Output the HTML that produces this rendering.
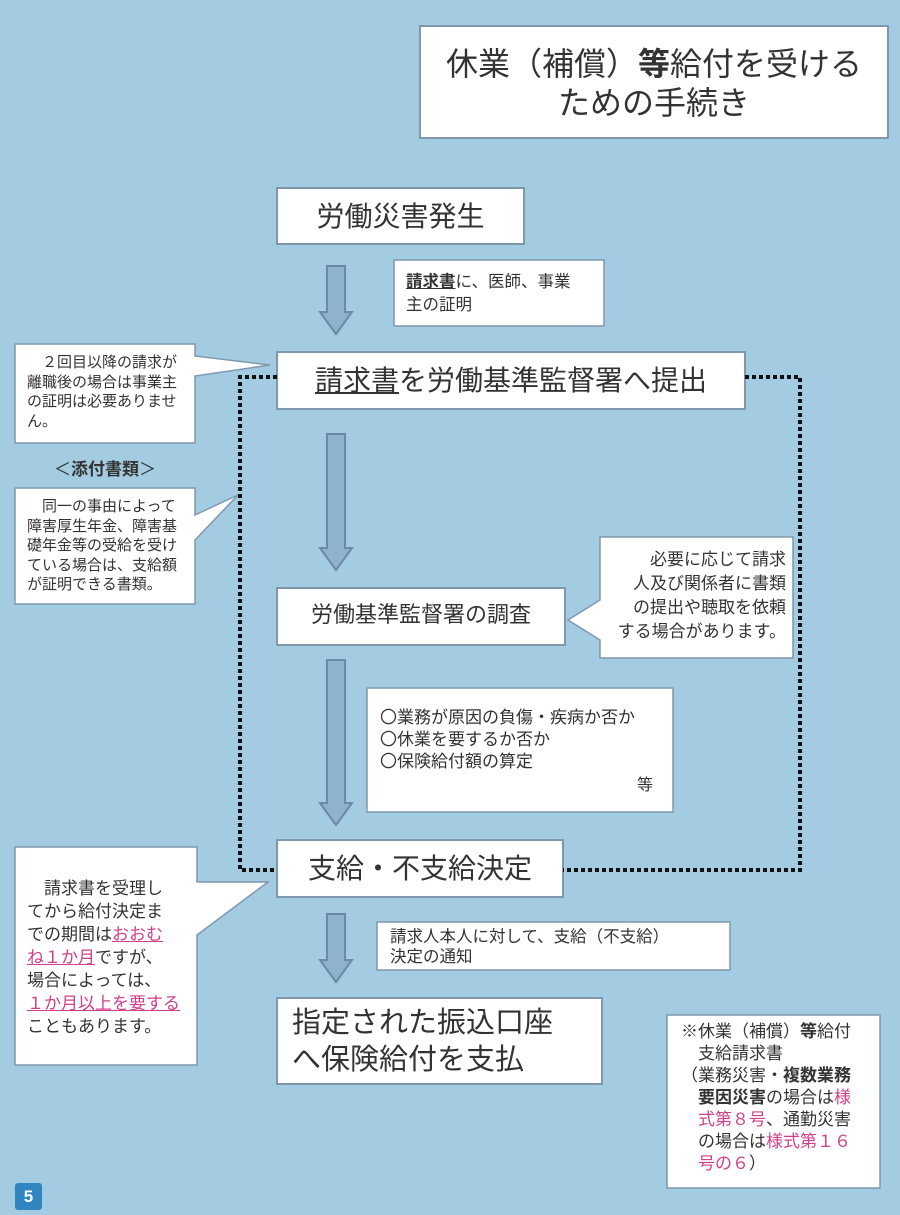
<!DOCTYPE html>
<html><head><meta charset="utf-8"><style>
body{margin:0;width:900px;height:1215px;background:#a3cbe2;position:relative;overflow:hidden;font-family:"Liberation Sans","Noto Sans CJK JP",sans-serif;color:#333}
.t{position:absolute;white-space:nowrap;line-height:1.25}
.p{color:#d0408a}
u{text-decoration:underline}
</style></head><body>
<svg width="900" height="1215" style="position:absolute;left:0;top:0">
<g fill="#fff" stroke="#7f98ad" stroke-width="2">
<rect x="420" y="26" width="468" height="112"/>
<rect x="277" y="188" width="247" height="56"/>
<rect x="394" y="260" width="210" height="66" stroke-width="1.5"/>
<rect x="277" y="352" width="468" height="57"/>
<rect x="277" y="588" width="288" height="57"/>
<rect x="367" y="688" width="306" height="124" stroke-width="1.5"/>
<rect x="277" y="840" width="286" height="57"/>
<rect x="377" y="922" width="353" height="48" stroke-width="1.5"/>
<rect x="277" y="998" width="325" height="86"/>
<rect x="667" y="1015" width="213" height="173" stroke-width="1.5"/>
<path d="M15 344 H195 V356 L270 365 L195 376 V443 H15 Z" stroke-width="1.5"/>
<path d="M15 488 H195 V515 L238 495 L195 540 V604 H15 Z" stroke-width="1.5"/>
<path d="M600 537 H793 V658 H600 V640 L568 620 L600 600 Z" stroke-width="1.5"/>
<path d="M15 847 H197 V882 L268 882 L197 935 V1065 H15 Z" stroke-width="1.5"/>
</g>
<g fill="none" stroke="#111" stroke-width="4" stroke-dasharray="4 3">
<path d="M277 377 H240 V870 H277"/>
<path d="M745 377 H800 V870 H563"/>
</g>
<g fill="#8fb3cf" stroke="#6c8aa3" stroke-width="2">
<path d="M327 266 H345 V312 H352 L336 334 L320 312 H327 Z"/>
<path d="M327 434 H345 V548 H352 L336 570 L320 548 H327 Z"/>
<path d="M327 660 H345 V803 H352 L336 825 L320 803 H327 Z"/>
<path d="M327 914 H345 V960 H352 L336 982 L320 960 H327 Z"/>
</g>
<rect x="15" y="1183" width="27" height="27" rx="3" fill="#2f86c1"/>
</svg>
<div class="t" style="left:420px;width:468px;top:45px;font-size:32px;text-align:center;line-height:39px">休業（補償）<b>等</b>給付を受ける<br>ための手続き</div>
<div class="t" style="left:277px;width:247px;top:199px;font-size:28px;text-align:center">労働災害発生</div>
<div class="t" style="left:406px;top:271px;font-size:16.5px;line-height:23px"><b><u>請求書</u></b>に、医師、事業<br>主の証明</div>
<div class="t" style="left:277px;width:468px;top:363px;font-size:28px;text-align:center"><u>請求書</u>を労働基準監督署へ提出</div>
<div class="t" style="left:27px;top:353px;font-size:15px;line-height:19.5px">　２回目以降の請求が<br>離職後の場合は事業主<br>の証明は必要ありませ<br>ん。</div>
<div class="t" style="left:15px;width:180px;top:459px;font-size:17px;text-align:center">＜<b>添付書類</b>＞</div>
<div class="t" style="left:27px;top:497px;font-size:15px;line-height:19.5px">　同一の事由によって<br>障害厚生年金、障害基<br>礎年金等の受給を受け<br>ている場合は、支給額<br>が証明できる書類。</div>
<div class="t" style="left:277px;width:288px;top:601px;font-size:22px;text-align:center">労働基準監督署の調査</div>
<div class="t" style="left:612px;top:548px;font-size:17px;line-height:24px;text-align:right;width:174px">必要に応じて請求<br>人及び関係者に書類<br>の提出や聴取を依頼<br>する場合があります。</div>
<div class="t" style="left:380px;top:707px;font-size:17px;line-height:22px">〇業務が原因の負傷・疾病か否か<br>〇休業を要するか否か<br>〇保険給付額の算定</div>
<div class="t" style="left:637px;top:776px;font-size:16px">等</div>
<div class="t" style="left:277px;width:286px;top:851px;font-size:28px;text-align:center">支給・不支給決定</div>
<div class="t" style="left:27px;top:877px;font-size:17px;line-height:23px">　請求書を受理し<br>てから給付決定ま<br>での期間は<u class="p">おおむ<br>ね１か月</u>ですが、<br>場合によっては、<br><u class="p">１か月以上を要する</u><br>こともあります。</div>
<div class="t" style="left:390px;top:927px;font-size:16.5px;line-height:20px">請求人本人に対して、支給（不支給）<br>決定の通知</div>
<div class="t" style="left:292px;top:1005px;font-size:29px;line-height:37px">指定された振込口座<br>へ保険給付を支払</div>
<div class="t" style="left:681px;top:1021px;font-size:17px;line-height:22px">※休業（補償）<b>等</b>給付<br>　支給請求書<br>（業務災害・<b>複数業務<br>　要因災害</b>の場合は<span class="p">様<br>　式第８号</span>、通勤災害<br>　の場合は<span class="p">様式第１６<br>　号の６</span>）</div>
<div class="t" style="left:15px;width:27px;top:1186px;font-size:17px;text-align:center;color:#fff;font-weight:bold">5</div>
</body></html>
